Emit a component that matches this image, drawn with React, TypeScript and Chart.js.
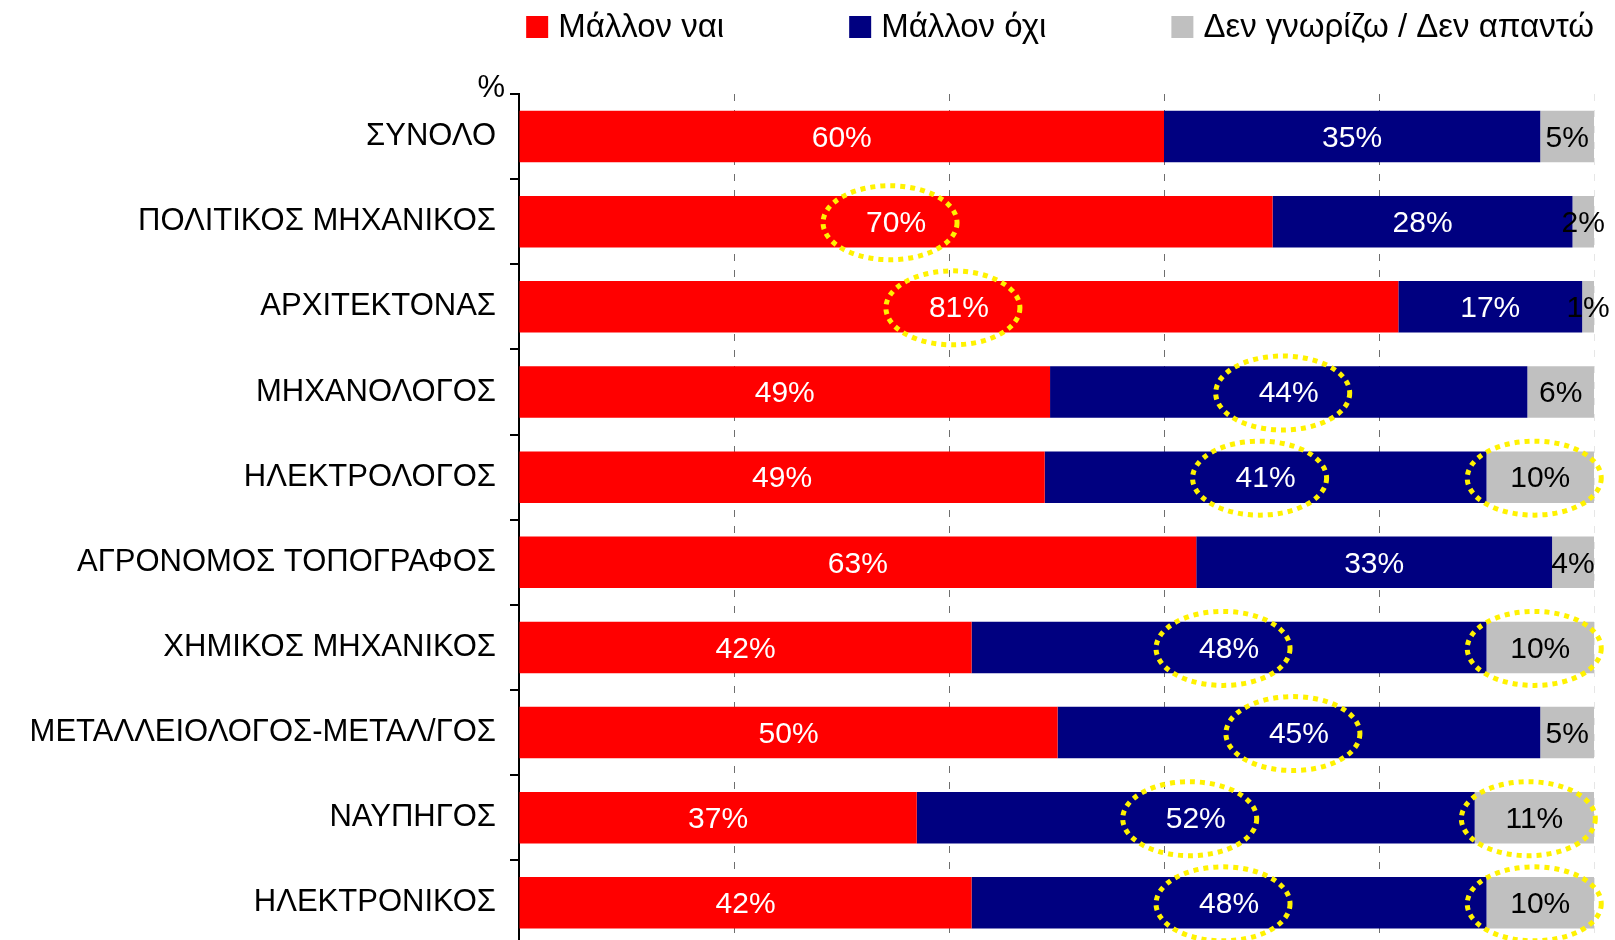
import React, { useEffect, useRef } from "react";
import { Chart, registerables } from "chart.js";

Chart.register(...registerables);

const categories = [
  "ΣΥΝΟΛΟ",
  "ΠΟΛΙΤΙΚΟΣ ΜΗΧΑΝΙΚΟΣ",
  "ΑΡΧΙΤΕΚΤΟΝΑΣ",
  "ΜΗΧΑΝΟΛΟΓΟΣ",
  "ΗΛΕΚΤΡΟΛΟΓΟΣ",
  "ΑΓΡΟΝΟΜΟΣ ΤΟΠΟΓΡΑΦΟΣ",
  "ΧΗΜΙΚΟΣ ΜΗΧΑΝΙΚΟΣ",
  "ΜΕΤΑΛΛΕΙΟΛΟΓΟΣ-ΜΕΤΑΛ/ΓΟΣ",
  "ΝΑΥΠΗΓΟΣ",
  "ΗΛΕΚΤΡΟΝΙΚΟΣ",
];

const seriesNames = ["Μάλλον ναι", "Μάλλον όχι", "Δεν γνωρίζω / Δεν απαντώ"];
const seriesColors = ["#FF0000", "#000080", "#C0C0C0"];
const labelColors = ["#FFFFFF", "#FFFFFF", "#000000"];

const yesValues = [60.0, 70.1, 81.8, 49.4, 48.9, 63.0, 42.1, 50.1, 37.0, 42.1];
const noValues = [35.0, 27.9, 17.1, 44.4, 41.1, 33.1, 47.9, 44.9, 51.9, 47.9];
const dkValues = [5.0, 2.0, 1.1, 6.2, 10.0, 3.9, 10.0, 5.0, 11.1, 10.0];

const yesLabels = [60, 70, 81, 49, 49, 63, 42, 50, 37, 42];
const noLabels = [35, 28, 17, 44, 41, 33, 48, 45, 52, 48];
const dkLabels = [5, 2, 1, 6, 10, 4, 10, 5, 11, 10];

const highlightYes = [false, true, true, false, false, false, false, false, false, false];
const highlightNo = [false, false, false, true, true, false, true, true, true, true];
const highlightDk = [false, false, false, false, true, false, true, false, true, true];

const xMin = 0;
const xMax = 100;
const xStep = 20;
const unitLabel = "%";

const FONT = "'Liberation Sans', Arial, sans-serif";
const CAT_FONT_SIZE = 31;
const VALUE_FONT_SIZE = 30;
const LEGEND_FONT_SIZE = 33;

const valueLabelsPlugin = {
  id: "valueLabels",
  afterDatasetsDraw(chart: any) {
    const ctx = chart.ctx;
    const labelSets = [yesLabels, noLabels, dkLabels];
    const highlights = [highlightYes, highlightNo, highlightDk];
    ctx.save();
    ctx.font = `${VALUE_FONT_SIZE}px ${FONT}`;
    ctx.textAlign = "center";
    ctx.textBaseline = "middle";
    chart.data.datasets.forEach((_ds: any, di: number) => {
      const meta = chart.getDatasetMeta(di);
      meta.data.forEach((bar: any, i: number) => {
        const p = bar.getProps(["x", "y", "base"], true);
        const cx = (p.x + p.base) / 2;
        ctx.fillStyle = labelColors[di];
        ctx.fillText(labelSets[di][i] + "%", cx, p.y + 2);
      });
    });
    // highlight ellipses
    ctx.strokeStyle = "#FFF200";
    ctx.lineWidth = 5;
    ctx.setLineDash([5, 5]);
    chart.data.datasets.forEach((_ds: any, di: number) => {
      const meta = chart.getDatasetMeta(di);
      meta.data.forEach((bar: any, i: number) => {
        if (!highlights[di][i]) return;
        const p = bar.getProps(["x", "y", "base"], true);
        const cx = (p.x + p.base) / 2 - 6;
        ctx.beginPath();
        ctx.ellipse(cx, p.y + 1, 67, 37, 0, 0, Math.PI * 2);
        ctx.stroke();
      });
    });
    ctx.restore();
  },
  afterDraw(chart: any) {
    const ctx = chart.ctx;
    const area = chart.chartArea;
    ctx.save();
    // unit label
    ctx.font = `${CAT_FONT_SIZE}px ${FONT}`;
    ctx.fillStyle = "#000";
    ctx.textAlign = "right";
    ctx.textBaseline = "alphabetic";
    ctx.fillText(unitLabel, area.left - 14, area.top + 3);
    // legend
    ctx.font = `${LEGEND_FONT_SIZE}px ${FONT}`;
    const box = 22;
    const gapText = 10;
    const gapItem = 125;
    const widths = seriesNames.map((n) => box + gapText + ctx.measureText(n).width);
    const total = widths.reduce((a, b) => a + b, 0) + gapItem * (seriesNames.length - 1);
    let x = area.right - total;
    const cy = 27;
    ctx.textAlign = "left";
    ctx.textBaseline = "middle";
    seriesNames.forEach((n, i) => {
      ctx.fillStyle = seriesColors[i];
      ctx.fillRect(x, cy - box / 2, box, box);
      ctx.fillStyle = "#000";
      ctx.fillText(n, x + box + gapText, cy + 1);
      x += widths[i] + gapItem;
    });
    ctx.restore();
  },
};

export default function App() {
  const canvasRef = useRef<HTMLCanvasElement | null>(null);

  useEffect(() => {
    if (!canvasRef.current) return;
    const valueSets = [yesValues, noValues, dkValues];
    const chart = new Chart(canvasRef.current, {
      type: "bar",
      data: {
        labels: categories,
        datasets: seriesNames.map((name, i) => ({
          label: name,
          data: valueSets[i],
          backgroundColor: seriesColors[i],
          borderWidth: 0,
          barPercentage: 0.605,
          categoryPercentage: 1,
        })),
      },
      options: {
        indexAxis: "y",
        responsive: false,
        animation: false,
        events: [],
        layout: { padding: { top: 94, right: 21, bottom: 14, left: 0 } },
        plugins: {
          legend: { display: false },
          tooltip: { enabled: false },
          title: { display: false },
        },
        scales: {
          x: {
            stacked: true,
            min: xMin,
            max: xMax,
            ticks: { display: false, stepSize: xStep },
            grid: {
              drawTicks: false,
              lineWidth: 1,
              color: (c: any) =>
                c.tick && c.tick.value === xMin
                  ? "rgba(0,0,0,0)"
                  : c.tick && c.tick.value === xMax
                  ? "#E6E6E6"
                  : "#6E6E6E",
            },
            border: { display: false, dash: [7, 9] },
          },
          y: {
            stacked: true,
            afterFit: (scale: any) => {
              scale.width = 519;
            },
            ticks: {
              color: "#000",
              font: { family: FONT, size: CAT_FONT_SIZE },
              padding: 14,
              autoSkip: false,
            },
            grid: {
              offset: true,
              drawOnChartArea: false,
              drawTicks: true,
              tickLength: 9,
              color: "#000",
              lineWidth: 2,
            },
            border: { display: true, color: "#000", width: 2 },
          },
        },
      },
      plugins: [valueLabelsPlugin],
    });
    return () => chart.destroy();
  }, []);

  return (
    <div
      style={{
        position: "fixed",
        left: 0,
        top: 0,
        width: 1615,
        height: 940,
        overflow: "hidden",
        background: "#fff",
      }}
    >
      <canvas ref={canvasRef} width={1615} height={978} style={{ display: "block" }} />
    </div>
  );
}
